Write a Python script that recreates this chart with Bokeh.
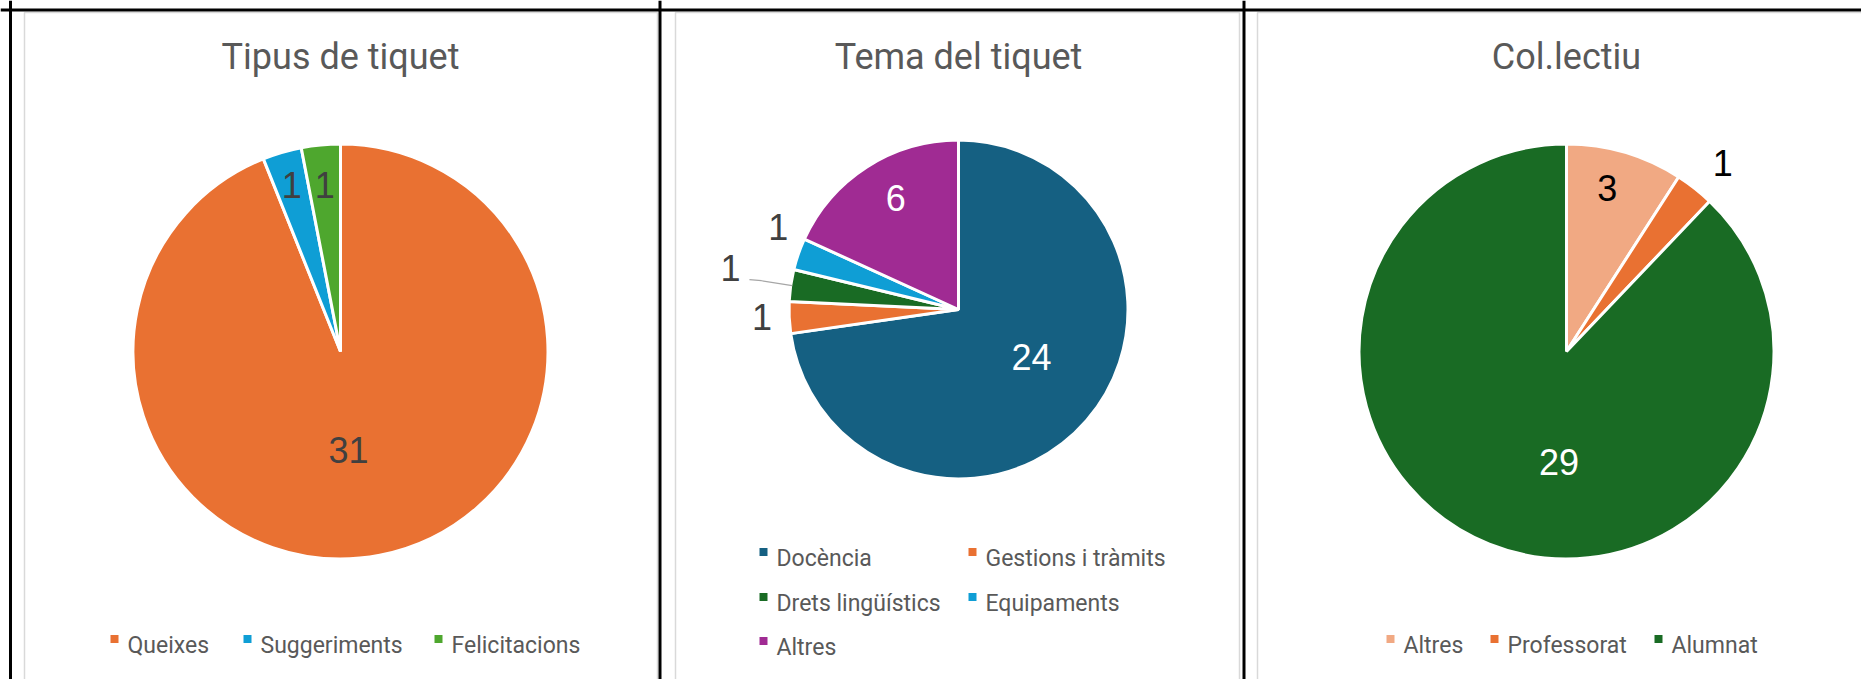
import math
from bokeh.plotting import figure
from bokeh.models import Range1d, Span, ColumnDataSource
from bokeh.core.properties import value
from bokeh.embed import file_html
from bokeh.resources import INLINE

# ---------------- data ----------------
tipus_titol = "Tipus de tiquet"
tipus_categories = ["Queixes", "Suggeriments", "Felicitacions"]
tipus_valors = [31, 1, 1]

tema_titol = "Tema del tiquet"
tema_categories = ["Docència", "Gestions i tràmits", "Drets lingüístics", "Equipaments", "Altres"]
tema_valors = [24, 1, 1, 1, 6]

col_titol = "Col.lectiu"
col_categories = ["Altres", "Professorat", "Alumnat"]
col_valors = [3, 1, 29]

# ---------------- styles ----------------
tipus_colors = ["#E97132", "#0F9ED5", "#4EA72E"]
tema_colors = ["#156082", "#E97132", "#196B24", "#0F9ED5", "#A02B93"]
col_colors = ["#F1A983", "#E97132", "#196B24"]

tipus_label_colors = ["#404040", "#404040", "#404040"]
tema_label_colors = ["#FFFFFF", "#404040", "#404040", "#404040", "#FFFFFF"]
col_label_colors = ["#000000", "#000000", "#FFFFFF"]

# label placement: fraction of radius, angular shift (deg)
tipus_label_frac = [0.48, 0.84, 0.81]
tipus_label_shift = [6.3, 0.0, 0.0]
tema_label_frac = [0.52, 1.17, 1.38, 1.18, 0.76]
tema_label_shift = [-7.6, 0.4, 2.2, 5.5, 3.3]
col_label_frac = [0.82, 1.19, 0.54]
col_label_shift = [-2.4, 1.4, -17.9]

TITLE_FONT = "Roboto"
LABEL_FONT = "Liberation Sans"
GRAY_TEXT = "#595959"

W, H = 1861, 679
PAGE_H = 679


def Y(py):
    return PAGE_H - py


p = figure(width=W, height=H, x_range=Range1d(0, W), y_range=Range1d(Y(H), Y(0)),
           output_backend="svg", toolbar_location=None,
           x_axis_location=None, y_axis_location=None, min_border=0)
p.grid.visible = False
p.outline_line_color = None
p.background_fill_color = "white"
p.border_fill_color = "white"

# chart area frames (light gray)
p.quad(left=[24, 675, 1257], right=[657, 1239, 1875], top=[Y(12)] * 3, bottom=[Y(720)] * 3,
       fill_color=None, line_color="#D9D9D9", line_width=1.5)

# cell borders (black)
for xloc in [10, 659.5, 1243.5]:
    p.add_layout(Span(location=xloc, dimension="height", line_color="black", line_width=3))
p.add_layout(Span(location=Y(9.5), dimension="width", line_color="black", line_width=3))


def draw_pie(title, cats, vals, colors, cx, cy, r, lfrac, lshift, lcolors):
    total = sum(vals)
    cum = 0
    starts, ends, mids = [], [], []
    for v in vals:
        a0 = cum / total * 360.0
        cum += v
        a1 = cum / total * 360.0
        starts.append(math.radians(90 - a1))
        ends.append(math.radians(90 - a0))
        mids.append((a0 + a1) / 2)
    src = ColumnDataSource(dict(start=starts, end=ends, color=colors, cat=cats, val=vals))
    p.wedge(x=cx, y=Y(cy), radius=r + 1.5, start_angle="start", end_angle="end",
            fill_color="color", line_color="white", line_width=3, source=src)
    lx, ly = [], []
    for m, f, s in zip(mids, lfrac, lshift):
        th = math.radians(m + s)
        lx.append(cx + f * r * math.sin(th))
        ly.append(Y(cy) + f * r * math.cos(th))
    p.text(x=lx, y=ly, text=[str(v) for v in vals], text_color=lcolors,
           text_font=value(LABEL_FONT), text_font_size="36px",
           text_align="center", text_baseline="middle")
    p.text(x=[cx], y=[Y(56)], text=[title], text_color=GRAY_TEXT,
           text_font=value(TITLE_FONT), text_font_size="36px",
           text_align="center", text_baseline="alphabetic")
    return mids, lx, ly


def draw_legend(cats, colors, xs, baselines):
    p.rect(x=[x + 4 for x in xs], y=[Y(b) + 6.5 for b in baselines], width=8, height=8,
           fill_color=colors, line_color=None)
    p.text(x=[x + 17 for x in xs], y=[Y(b) for b in baselines], text=cats, text_color=GRAY_TEXT,
           text_font=value(TITLE_FONT), text_font_size="23px",
           text_align="left", text_baseline="alphabetic")


# Chart 1
draw_pie(tipus_titol, tipus_categories, tipus_valors, tipus_colors, 340, 351, 206,
         tipus_label_frac, tipus_label_shift, tipus_label_colors)
draw_legend(tipus_categories, tipus_colors, [110, 243, 434], [645, 645, 645])

# Chart 2
mids2, lx2, ly2 = draw_pie(tema_titol, tema_categories, tema_valors, tema_colors, 958, 309, 168,
                           tema_label_frac, tema_label_shift, tema_label_colors)
# leader line for the "Drets lingüístics" label
th = math.radians(mids2[2])
ex, ey = 958 + 168 * math.sin(th), Y(309) + 168 * math.cos(th)
p.line(x=[lx2[2] + 19, lx2[2] + 31, ex], y=[ly2[2] - 12, ly2[2] - 13, ey],
       line_color="#A6A6A6", line_width=1.2)
draw_legend(tema_categories, tema_colors, [759, 968, 759, 968, 759], [558, 558, 603, 603, 647])

# Chart 3
draw_pie(col_titol, col_categories, col_valors, col_colors, 1566, 351, 206,
         col_label_frac, col_label_shift, col_label_colors)
draw_legend(col_categories, col_colors, [1386, 1490, 1654], [645, 645, 645])

open("out.html", "w").write(file_html(p, INLINE))
